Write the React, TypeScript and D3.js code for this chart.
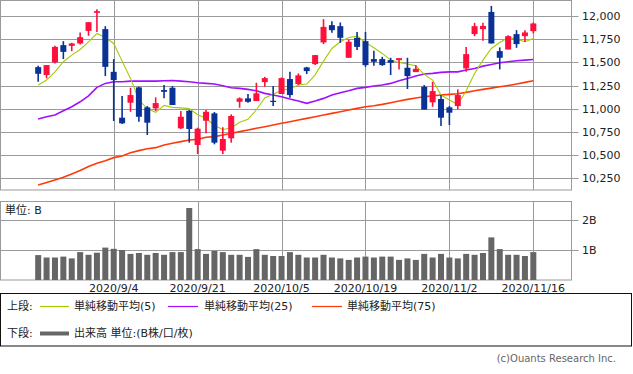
import * as d3 from "d3";

// trading days (2020)
const dates = [
  "8/24", "8/25", "8/26", "8/27", "8/28", "8/31", "9/1", "9/2", "9/3", "9/4",
  "9/8", "9/9", "9/10", "9/11", "9/14", "9/15", "9/16", "9/17", "9/18", "9/21",
  "9/22", "9/23", "9/24", "9/25", "9/28", "9/29", "9/30", "10/1", "10/2", "10/5",
  "10/6", "10/7", "10/8", "10/9", "10/12", "10/13", "10/14", "10/15", "10/16", "10/19",
  "10/20", "10/21", "10/22", "10/23", "10/26", "10/27", "10/28", "10/29", "10/30", "11/2",
  "11/3", "11/4", "11/5", "11/6", "11/9", "11/10", "11/11", "11/12", "11/13", "11/16",
];

const open = [
  11449, 11363, 11500, 11687, 11679, 11705, 11841, 12036, 11860, 11398,
  10902, 11064, 11230, 11014, 11003, 11201, 11226, 10787, 10977, 10607,
  10869, 10949, 10545, 10679, 11074, 11111, 11082, 11287, 11085, 11158,
  11320, 11266, 11446, 11482, 11716, 11903, 11892, 11550, 11766, 11730,
  11536, 11536, 11525, 11525, 11442, 11395, 11237, 11068, 11104, 11014,
  11028, 11435, 11806, 11860, 12046, 11622, 11640, 11806, 11784, 11838,
];
const high = [
  11463, 11471, 11679, 11730, 11712, 11824, 11935, 12076, 11892, 11536,
  11136, 11226, 11236, 11028, 11122, 11255, 11244, 10974, 10985, 10794,
  10985, 10963, 10798, 10938, 11122, 11158, 11280, 11344, 11244, 11338,
  11398, 11381, 11452, 11579, 11968, 11946, 11932, 11748, 11830, 11830,
  11625, 11560, 11550, 11546, 11550, 11468, 11255, 11290, 11147, 11028,
  11208, 11668, 11928, 11928, 12111, 11662, 11795, 11849, 11849, 11932,
];
const low = [
  11290, 11327, 11489, 11536, 11622, 11694, 11787, 11830, 11352, 10866,
  10834, 10966, 10858, 10715, 10974, 11111, 11039, 10780, 10632, 10510,
  10733, 10614, 10510, 10632, 11010, 11064, 11082, 11236, 11028, 11158,
  11118, 11255, 11374, 11471, 11698, 11820, 11712, 11550, 11633, 11452,
  11463, 11463, 11363, 11424, 11212, 11395, 10990, 11020, 10812, 10823,
  10992, 11398, 11784, 11733, 11705, 11424, 11640, 11658, 11722, 11813,
];
const close = [
  11377, 11471, 11668, 11614, 11705, 11773, 11935, 12054, 11452, 11309,
  10841, 11147, 10912, 10848, 11060, 11182, 11039, 10912, 10780, 10783,
  10966, 10632, 10672, 10920, 11111, 11074, 11165, 11330, 11079, 11330,
  11147, 11360, 11406, 11579, 11884, 11849, 11766, 11723, 11668, 11471,
  11507, 11471, 11496, 11546, 11352, 11431, 10990, 11190, 10902, 10956,
  11147, 11590, 11892, 11895, 11705, 11550, 11784, 11698, 11824, 11921,
];

const ma5 = [
  11255, 11309, 11398, 11507, 11579, 11640, 11723, 11813, 11770, 11705,
  11514, 11327, 11093, 11000, 10960, 11035, 11014, 11008, 11000, 10935,
  10895, 10818, 10775, 10790, 10852, 10885, 10988, 11115, 11155, 11198,
  11215, 11255, 11266, 11366, 11514, 11651, 11723, 11770, 11784, 11716,
  11658, 11597, 11525, 11500, 11482, 11463, 11370, 11309, 11147, 11093,
  11045, 11193, 11381, 11525, 11651, 11716, 11770, 11752, 11723, 11759,
];
const ma25 = [
  10888, 10913, 10931, 10977, 11020, 11074, 11139, 11230, 11273, 11291,
  11291, 11298, 11298, 11298, 11298, 11302, 11305, 11298, 11291, 11280,
  11273, 11266, 11247, 11226, 11219, 11208, 11193, 11165, 11147, 11129,
  11104, 11082, 11057, 11082, 11111, 11147, 11172, 11193, 11219, 11230,
  11244, 11255, 11273, 11302, 11327, 11352, 11374, 11381, 11392, 11398,
  11398, 11417, 11435, 11460, 11478, 11496, 11507, 11518, 11525, 11532,
];
const ma75 = [
  10175, 10200, 10229, 10258, 10294, 10330, 10373, 10409, 10437, 10470,
  10488, 10524, 10546, 10567, 10578, 10607, 10625, 10643, 10661, 10668,
  10690, 10697, 10715, 10733, 10751, 10769, 10787, 10805, 10823, 10841,
  10859, 10877, 10895, 10913, 10931, 10949, 10966, 10985, 11003, 11020,
  11031, 11046, 11064, 11082, 11100, 11115, 11129, 11139, 11147, 11154,
  11161, 11176, 11193, 11208, 11222, 11237, 11251, 11266, 11284, 11302,
];

// volume, billions
const volume = [
  0.83, 0.75, 0.75, 0.78, 0.72, 0.93, 0.84, 0.91, 1.08, 1.04,
  1.0, 0.87, 0.9, 0.84, 0.9, 0.84, 0.93, 0.93, 2.4, 1.03,
  0.87, 0.97, 0.93, 0.84, 0.84, 0.77, 1.03, 0.84, 0.8, 0.8,
  0.93, 0.84, 0.75, 0.75, 0.84, 0.75, 0.72, 0.67, 0.75, 0.78,
  0.75, 0.78, 0.78, 0.67, 0.72, 0.67, 0.87, 0.75, 0.87, 0.75,
  0.72, 0.87, 0.84, 0.9, 1.42, 1.03, 0.84, 0.84, 0.8, 0.93,
];

const priceTicks = [10250, 10500, 10750, 11000, 11250, 11500, 11750, 12000];
const volumeTicks = [1, 2];
const dateTicks = ["9/4", "9/21", "10/5", "10/19", "11/2", "11/16"];

const FONT = "'DejaVu Sans', 'Noto Sans CJK JP', sans-serif";
const GRID = "#9a9a9a";
const UP = "#ff0f3c";
const DOWN = "#0a3296";

export default function App() {
  const plotRight = 571.5;
  const main = { top: 0.5, bottom: 190 };
  const vol = { top: 201.5, bottom: 280 };

  const x = d3.scalePoint<string>().domain(dates).range([0, plotRight]).padding(4.55);
  const y = d3.scaleLinear().domain([10120, 12175]).range([main.bottom, 0]);
  const yv = d3.scaleLinear().domain([0, 2.6]).range([vol.bottom, vol.bottom - 78]);

  const maLine = (vals: number[]) =>
    d3
      .line<number>()
      .x((_, i) => x(dates[i]) ?? 0)
      .y((d) => y(d))(vals) ?? "";

  const fmt = d3.format(",");

  return (
    <svg
      width={633}
      height={374}
      style={{ position: "absolute", left: 0, top: 0, background: "#fff", fontFamily: FONT }}
    >
      {/* main price panel grid */}
      {priceTicks.map((t) => (
        <g key={t}>
          <line x1={0} x2={plotRight + 7} y1={Math.round(y(t)) + 0.5} y2={Math.round(y(t)) + 0.5} stroke={GRID} />
          <text x={582} y={Math.round(y(t)) + 0.5} dy="0.36em" fontSize={11} fill="#222">
            {fmt(t)}
          </text>
        </g>
      ))}
      {dateTicks.map((d) => (
        <g key={d}>
          <line x1={Math.round(x(d)!) + 0.5} x2={Math.round(x(d)!) + 0.5} y1={main.top} y2={main.bottom} stroke={GRID} />
          <line x1={Math.round(x(d)!) + 0.5} x2={Math.round(x(d)!) + 0.5} y1={vol.top} y2={vol.bottom} stroke={GRID} />
          <text x={x(d)} y={288} dy="0.36em" fontSize={11} textAnchor="middle" fill="#222">
            {"2020/" + d}
          </text>
        </g>
      ))}
      <rect x={0.5} y={main.top} width={plotRight - 0.5} height={main.bottom - main.top} fill="none" stroke={GRID} />

      {/* moving averages */}
      <path d={maLine(ma75)} fill="none" stroke="#ff3a0a" strokeWidth={1.6} />
      <path d={maLine(ma25)} fill="none" stroke="#a010ff" strokeWidth={1.6} />
      <path d={maLine(ma5)} fill="none" stroke="#a6cc00" strokeWidth={1.1} />

      {/* candles */}
      {dates.map((d, i) => {
        const cx = x(d)!;
        const up = close[i] >= open[i];
        const c = up ? UP : DOWN;
        const top = y(Math.max(open[i], close[i]));
        const bot = y(Math.min(open[i], close[i]));
        return (
          <g key={d}>
            <line x1={cx} x2={cx} y1={y(high[i])} y2={y(low[i])} stroke={c} strokeWidth={1.6} />
            <rect x={cx - 3} y={top} width={6} height={Math.max(1.2, bot - top)} fill={c} />
          </g>
        );
      })}

      {/* volume panel */}
      {volumeTicks.map((t) => (
        <g key={t}>
          <line x1={0} x2={plotRight + 7} y1={Math.round(yv(t)) + 0.5} y2={Math.round(yv(t)) + 0.5} stroke={GRID} />
          <text x={582} y={Math.round(yv(t)) + 0.5} dy="0.36em" fontSize={11} fill="#222">
            {t + "B"}
          </text>
        </g>
      ))}
      <rect x={0.5} y={vol.top} width={plotRight - 0.5} height={vol.bottom - vol.top} fill="none" stroke={GRID} />
      {dates.map((d, i) => (
        <rect key={d} x={x(d)! - 3} y={yv(volume[i])} width={6} height={vol.bottom - yv(volume[i])} fill="#666" />
      ))}
      <text x={5} y={210} dy="0.36em" fontSize={11} fill="#222">
        単位: B
      </text>

      {/* legend */}
      <rect x={0.5} y={293.5} width={631} height={52.5} fill="none" stroke="#111" />
      <text x={7} y={306} dy="0.36em" fontSize={11} fill="#222">上段:</text>
      <line x1={40} x2={69} y1={306.5} y2={306.5} stroke="#a6cc00" strokeWidth={1.2} />
      <text x={74} y={306} dy="0.36em" fontSize={11} fill="#222">単純移動平均(5)</text>
      <line x1={168} x2={198} y1={306.5} y2={306.5} stroke="#a010ff" strokeWidth={1.2} />
      <text x={204} y={306} dy="0.36em" fontSize={11} fill="#222">単純移動平均(25)</text>
      <line x1={312} x2={342} y1={306.5} y2={306.5} stroke="#ff3a0a" strokeWidth={1.2} />
      <text x={347} y={306} dy="0.36em" fontSize={11} fill="#222">単純移動平均(75)</text>
      <text x={7} y={333} dy="0.36em" fontSize={11} fill="#222">下段:</text>
      <line x1={40} x2={69} y1={333.5} y2={333.5} stroke="#666" strokeWidth={4} />
      <text x={74} y={333} dy="0.36em" fontSize={11} fill="#222">出来高 単位:(B株/口/枚)</text>

      <text x={616} y={358} dy="0.36em" fontSize={10} textAnchor="end" fill="#666">
        (c)Ouants Research Inc.
      </text>
    </svg>
  );
}
